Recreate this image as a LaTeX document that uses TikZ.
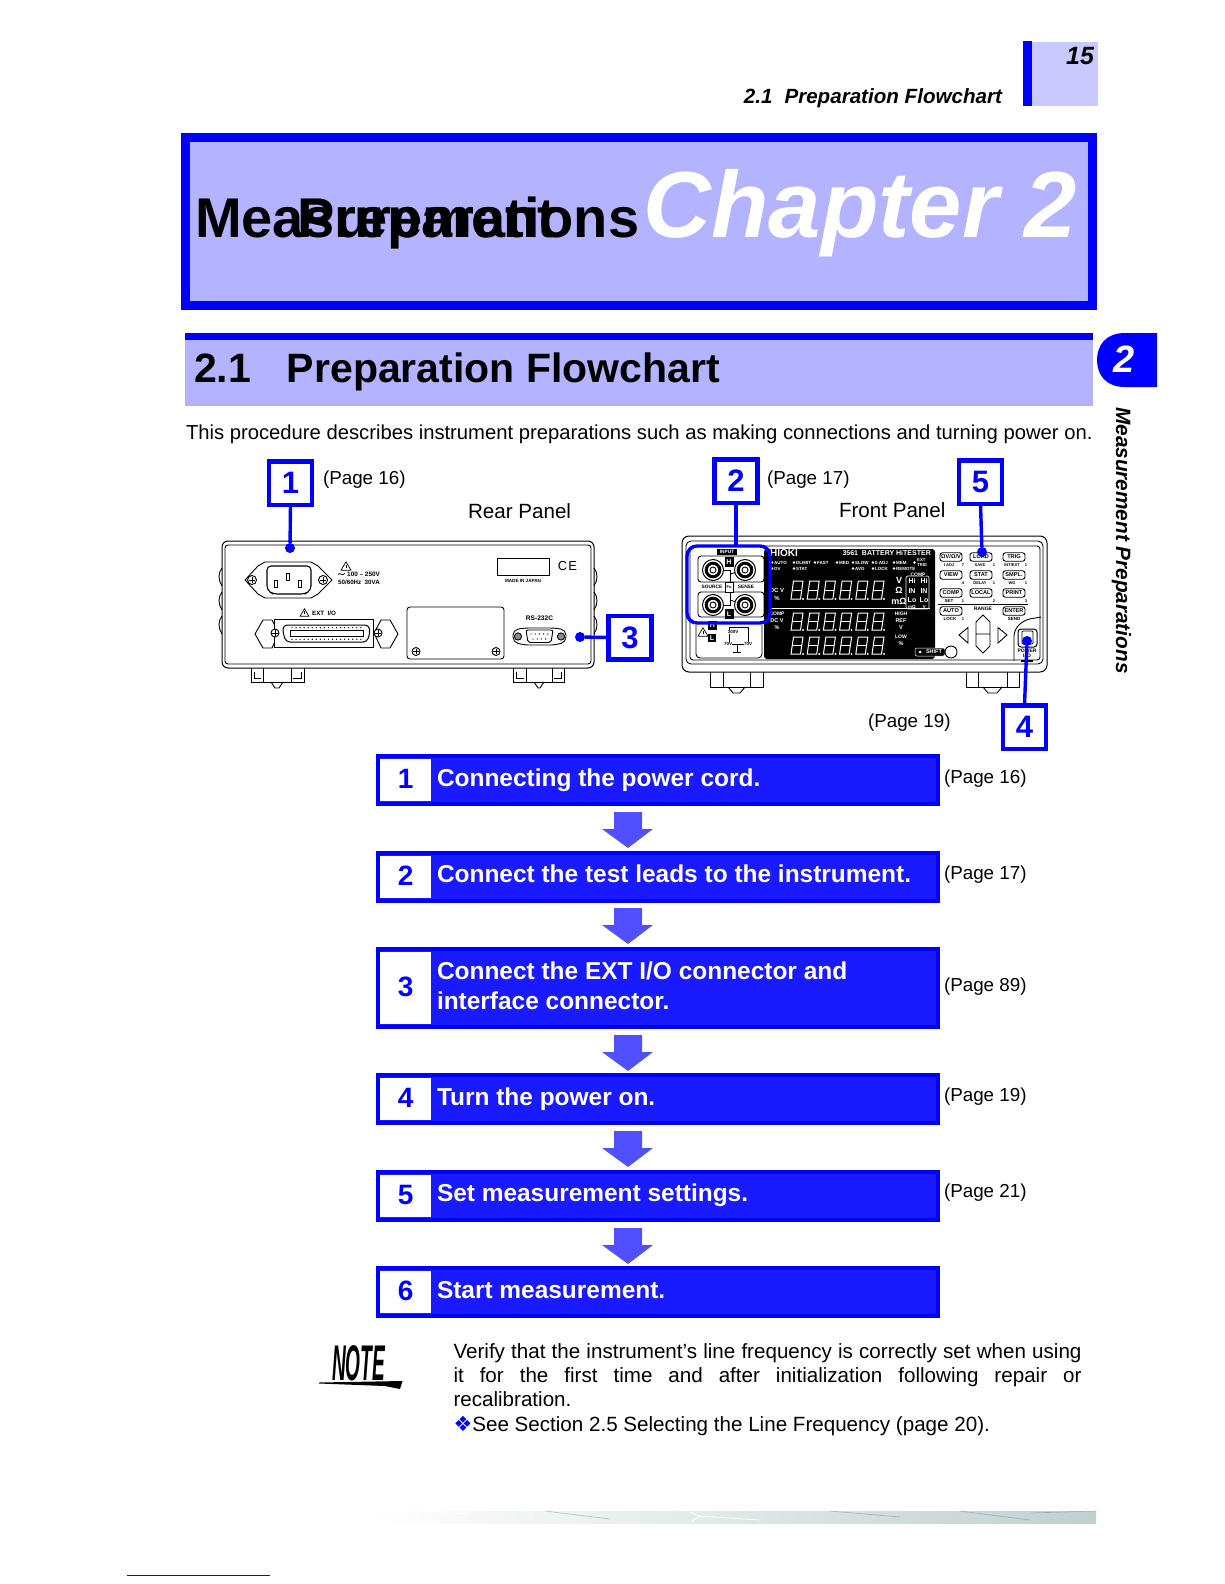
\documentclass[tikz,border=0pt]{standalone}
\usepackage{fontspec}
\usepackage{graphicx}
\setmainfont{Liberation Sans}
\newfontfamily\djv{DejaVu Sans}
\usetikzlibrary{calc}
\definecolor{pblue}{HTML}{0000FF}
\definecolor{flowfill}{HTML}{1A1AFF}
\definecolor{lav}{HTML}{B3B3FF}
\definecolor{lav2}{HTML}{C9C9FF}
\definecolor{arrowb}{HTML}{5050FF}
\definecolor{stripc}{HTML}{BFD0D0}
\definecolor{rulec}{HTML}{10109A}
\newcommand\fsz[1]{\fontsize{#1}{#1}\selectfont}
\newcounter{tnc}
\newcommand\pl[4][]{\stepcounter{tnc}\node[inner sep=0pt,font=\bfseries\fsz{#3},#1] (tn\arabic{tnc}) at (#2) {#4};}
\newcommand\scr[3]{\draw[panel,fill=white] (#1,#2) circle[radius=#3]; \draw[panel] (#1-#3*.7,#2) -- (#1+#3*.7,#2) (#1,#2-#3*.7) -- (#1,#2+#3*.7);}
\newcommand\wtri[3]{\draw[panel,line width=.7pt,line join=round] (#1-#3,#2+#3*.85) -- (#1,#2-#3*.85) -- (#1+#3,#2+#3*.85) -- cycle; \draw[panel,line width=.7pt] (#1,#2-#3*.25) -- (#1,#2+#3*.4);}
\newcommand\btn[3]{\stepcounter{tnc}\node[btnbox] (bt\arabic{tnc}) at (#1,#2) {#3};}
\tikzset{
  x=1pt,y=-1pt,
  plain/.style={inner sep=0pt,outer sep=0pt,anchor=base west},
  panel/.style={draw=black,line width=.9pt},
  callout/.style={draw=pblue,fill=white,line width=4.5pt,minimum width=43pt,minimum height=43.5pt,inner sep=0pt,outer sep=0pt,text=pblue,font=\bfseries\fsz{31}},
  lead/.style={draw=pblue,line width=3.4pt},
  dotn/.style={circle,fill=pblue,inner sep=0pt,minimum size=10pt,outer sep=0pt},
  flow/.style={draw=pblue,fill=flowfill,line width=4pt,anchor=north west,inner sep=0pt,outer sep=0pt,minimum width=560pt},
  numbox/.style={fill=white,text=pblue,font=\bfseries\fsz{28},inner sep=0pt,outer sep=0pt,minimum width=50.5pt},
  flowtxt/.style={plain,text=white,font=\bfseries\fsz{24.45}},
  pagetxt/.style={plain,font=\fsz{18.8}},
  btnbox/.style={draw=black,fill=white,line width=.9pt,rounded corners=2.5pt,minimum width=22pt,minimum height=8.5pt,inner sep=0pt,font=\bfseries\fsz{5.6}},
}
\begin{document}
\begin{tikzpicture}
\useasboundingbox (0,0) rectangle (1224,1584);
% running head
\fill[lav2] (1032,42) rectangle (1098,106);
\fill[pblue] (1023,41) rectangle (1032,106);
\node[plain,anchor=base east,font=\bfseries\itshape\fsz{25}] (pageno) at (1094,65) {15};
\node[plain,anchor=base east,font=\bfseries\itshape\fsz{20.6}] (runhead) at (1002,104) {2.1\hspace{12pt}Preparation Flowchart};
% chapter box
\node[draw=pblue,fill=lav,line width=8.5pt,anchor=north west,inner sep=0pt,outer sep=0pt,minimum width=907pt,minimum height=168pt] (chapbox) at (185.5,137.5) {};
\node[plain,font=\bfseries\fsz{56}] (chapa) at (195,237) {Measurement};
\node[plain,font=\bfseries\fsz{56}] (chapb) at (297,237) {Preparations};
\node[plain,anchor=base east,text=white,font=\bfseries\itshape\fsz{94}] (chapc) at (1077,237) {Chapter 2};
% section head
\fill[lav] (185,340) rectangle (1093,406);
\fill[pblue] (185,333) rectangle (1093,340);
\node[plain,font=\bfseries\fsz{41}] (sect) at (194,382) {2.1\hspace{36pt}Preparation Flowchart};
% side tab
\fill[pblue] (1157,333) -- (1125,333) .. controls (1106,333) and (1097,345) .. (1097,360) .. controls (1097,375) and (1106,387) .. (1125,387) -- (1157,387) -- cycle;
\node[inner sep=0pt,text=white,font=\bfseries\itshape\fsz{38}] (tabno) at (1124,359) {2};
\node[inner sep=0pt,rotate=-90,anchor=base west,font=\bfseries\itshape\fsz{20.75}] (sidetxt) at (1116,407) {Measurement Preparations};
% intro
\node[plain,font=\fsz{20.6}] (intro) at (186,439) {\resizebox{906.5pt}{!}{This procedure describes instrument preparations such as making connections and turning power on.}};
\node[pagetxt] (p16a) at (323,484) {(Page 16)};
\node[pagetxt] (p17a) at (767,484) {(Page 17)};
\node[pagetxt] (p19a) at (868,727) {(Page 19)};
\node[plain,font=\fsz{20.6}] (rear) at (468,518) {Rear Panel};
\node[plain,font=\fsz{20.6}] (front) at (839,517) {Front Panel};

% ---------- rear panel
\draw[panel,fill=white,line width=1pt,rounded corners=6pt] (222,541) rectangle (594,668);
\draw[panel,rounded corners=3pt] (225,545) rectangle (591,664);
\foreach \yy in {568,592,616} {
  \draw[panel] (222,\yy) .. controls (218,\yy+5) and (218,\yy+12) .. (222,\yy+18);
  \draw[panel] (594,\yy) .. controls (598,\yy+5) and (598,\yy+12) .. (594,\yy+18);
}
% feet
\foreach \xa/\xb/\xc/\xd in {251/263/291/304,513/526/552/564} {
  \draw[panel] (\xa,668) -- (\xa,682) -- (\xd,682) -- (\xd,668);
  \draw[panel] (\xb,668) -- (\xb,682) (\xc,668) -- (\xc,682);
  \draw[panel] (\xb+8,682) -- (\xb+12,688) -- (\xc-12,688) -- (\xc-8,682);
  \draw[panel] (\xa+3,672) -- (\xa+3,678) -- (\xb-2,678) (\xd-3,672) -- (\xd-3,678) -- (\xc+2,678);
}
% inlet
\draw[panel,fill=white] (245,580) -- (258,566) -- (265,562) -- (311,562) -- (318,566) -- (332,580) -- (318,594) -- (311,598) -- (265,598) -- (258,594) -- cycle;
\draw[panel,line width=1.1pt,fill=white,rounded corners=4pt] (267,566) -- (311,566) -- (311,590) -- (305,594) -- (273,594) -- (267,590) -- cycle;
\draw[panel,fill=white] (274.5,580) rectangle (277.5,587);
\draw[panel,fill=white] (286.5,573) rectangle (289.5,580);
\draw[panel,fill=white] (298.5,580) rectangle (301.5,587);
\scr{252}{580}{4.5}
\scr{323}{580}{4.5}
\wtri{346}{566}{5}
\draw[panel,line width=.7pt] (338,574.5) .. controls (340,571.5) and (342,577) .. (345,573.5);
\pl[anchor=west]{347,574}{6.4}{100 – 250V}
\pl[anchor=west]{338,582.5}{6.2}{50/60Hz\ \ 30VA}
% name plate
\draw[panel] (497,558) rectangle (549,575);
\pl{523,580.5}{4.6}{MADE IN JAPAN}
\pl{567.5,566}{13}{\mdseries C\hspace{1pt}E}
% EXT I/O
\wtri{304.5}{612.5}{4.5}
\pl[anchor=west]{312,613}{6.2}{EXT\ \ I/O}
\draw[panel,fill=white] (255,634) -- (263,620) -- (272,620) -- (279,633) -- (272,648) -- (263,648) -- cycle;
\draw[panel,fill=white] (398,634) -- (390,620) -- (381,620) -- (374,633) -- (381,648) -- (390,648) -- cycle;
\draw[panel,fill=white] (274,619) rectangle (373,647);
\scr{275}{633}{4}
\scr{378}{633}{4}
\draw[panel,line width=1pt,fill=white,rounded corners=4pt] (283,625) -- (369,625) -- (370,633) -- (367,642) -- (286,642) -- (283,633) -- cycle;
\draw[panel] (290,630) rectangle (363,636.5);
\foreach \i in {0,...,17} {
  \fill (292+\i*4.05,627.7) circle[radius=.7];
  \fill (292+\i*4.05,639.3) circle[radius=.7];
}
% cover plate
\draw[panel,rounded corners=3pt] (407,607) rectangle (504,659);
\scr{416}{651.5}{4}
\scr{496}{651.5}{4}
% RS-232C
\pl{539.5,618}{6.6}{RS-232C}
\draw[panel,rounded corners=5pt] (513,630) -- (524,628) -- (555,628) -- (566,630) -- (566,642) -- (555,645) -- (524,645) -- (513,642) -- cycle;
\draw[panel,fill=black!45] (518,636.5) circle[radius=3.6];
\draw[panel,fill=black!45] (561,636.5) circle[radius=3.6];
\draw[panel,fill=white,rounded corners=2pt] (526,630) -- (553,630) -- (551,642.5) -- (528,642.5) -- cycle;
\foreach \i in {0,...,4} \fill (531+\i*4.2,634) circle[radius=.7];
\foreach \i in {0,...,3} \fill (533+\i*4.2,639) circle[radius=.7];

% ---------- front panel
\draw[panel,fill=white,line width=1pt,rounded corners=7pt] (682,536) rectangle (1047,672);
\draw[panel,rounded corners=5pt] (686,541) rectangle (1043,664);
\draw[panel,rounded corners=3pt] (690,546) rectangle (1040,660);
\foreach \xa/\xb/\xc/\xd in {710/723/750/763,966/978/1007/1019} {
  \draw[panel] (\xa,672) -- (\xa,687) -- (\xd,687) -- (\xd,672);
  \draw[panel] (\xb,672) -- (\xb,687) (\xc,672) -- (\xc,687);
  \draw[panel] (\xb+5,687) -- (\xb+10,693) -- (\xc-10,693) -- (\xc-5,687);
}
% input section
\fill (717,549) rectangle (737,555);
\pl[text=white]{727,552}{4.8}{INPUT}
\draw[panel,rounded corners=3pt] (698,556) -- (698,582) -- (764,582) -- (764,556) -- cycle;
\draw[panel,rounded corners=3pt] (698,592) -- (698,617) -- (764,617) -- (764,592) -- cycle;
\draw[panel] (713,570) -- (730,570) -- (730,605) -- (713,605);
\draw[panel] (745,570) -- (730,574) (745,605) -- (730,600);
\foreach \cx/\cy in {713/570,745/570,713/605,745/605} {
  \draw[panel,fill=white,line width=1pt] (\cx,\cy) circle[radius=10.5];
  \draw[black,fill=white,line width=3pt] (\cx,\cy) circle[radius=6.8];
  \draw[panel,fill=white] (\cx,\cy) circle[radius=3];
}
\fill[white] (694,583) rectangle (766,591);
\pl{712,587}{4.8}{SOURCE}
\pl{746,587}{4.8}{SENSE}
\fill[black] (724.5,557) rectangle (733.5,567);
\pl[text=white]{729,562}{7}{H}
\fill[black] (724.5,609) rectangle (733.5,619);
\pl[text=white]{729,614}{7}{L}
\draw[panel,fill=white] (725,582) rectangle (733,592);
\pl{729,587}{4}{Fu}
% lower left schematic
\draw[panel,rounded corners=4pt] (696,625) -- (696,658) -- (762,658) -- (762,625);
\fill (708,621) rectangle (717,630);
\pl[text=white]{712.5,625.5}{7}{H}
\fill (708,634) rectangle (716,642);
\pl[text=white]{712,638}{7}{L}
\wtri{703}{632}{5}
\draw[panel,line width=.6pt] (729,627) -- (748,627) -- (748,644) -- (737,644) (729,627) -- (729,644) -- (737,644) -- (737,652);
\draw[panel,line width=.6pt] (733,652) -- (741,652);
\pl[fill=white]{733,632}{4.5}{300V}
\pl[fill=white]{728,644}{4.5}{70V}
\pl[fill=white]{748,644}{4.5}{70V}
% display
\fill[black,rounded corners=3pt] (764,549) rectangle (935,659);
\pl[text=white,anchor=west]{770,553}{10}{HIOKI}
\pl[text=white,anchor=east]{931,553}{7}{3561\ \ BATTERY HiTESTER}
\foreach \xx/\yy/\tt in {772/562.5/AUTO,794/562.5/DLIMIT,815/562.5/FAST,837/562.5/MED,853/562.5/SLOW,873/562.5/0 ADJ,894/562.5/MEM,772/568.5/OV,794/568.5/STAT,853/568.5/AVG,873/568.5/LOCK,894/568.5/REMOTE} {
  \fill[white] (\xx,\yy) circle[radius=1.3];
  \pl[text=white,anchor=west]{\xx+2,\yy}{4.5}{\tt}
}
\fill[white] (914.5,562.5) circle[radius=1.3];
\pl[text=white,anchor=west]{917,560.5}{4.2}{EXT}
\pl[text=white,anchor=west]{917,565}{4.2}{TRIG}
\draw[white,line width=.6pt] (770,608) -- (930,608);
\pl[text=white]{777,590}{6}{DC V}
\pl[text=white]{777,598}{6}{\%}
\pl[text=white]{777,613.5}{5}{COMP}
\pl[text=white]{777,620.5}{5.5}{DC V}
\pl[text=white]{777,628}{5.5}{\%}
\pl[text=white]{899,580}{9}{V}
\pl[text=white]{899,590}{9}{Ω}
\pl[text=white]{899,601}{9}{mΩ}
\pl[text=white]{901,614}{5}{HIGH}
\pl[text=white]{901,621}{5.5}{REF}
\pl[text=white]{901,628}{5.5}{V}
\pl[text=white]{901,637}{5}{LOW}
\pl[text=white]{901,644}{5.5}{\%}
\draw[white,line width=.6pt,rounded corners=2pt] (906,576) rectangle (929,609);
\pl[text=white,fill=black]{918,574.5}{5}{COMP}
\foreach \yy/\tt in {581/Hi,591/IN,600/Lo} {
  \pl[text=white]{912,\yy}{7}{\tt}
  \pl[text=white]{924,\yy}{7}{\tt}
}
\pl[text=white]{912,606.5}{4.5}{mΩ}
\pl[text=white]{924,606.5}{4.5}{V}
% seven-segment digit rows
\foreach \yy/\hh in {581/18,613/17,637/17} {
  \foreach \i in {0,...,5} {
    \pgfmathsetmacro\xl{791+\i*16.2}
    \draw[white,line width=1pt] (\xl,\yy+\hh) -- (\xl+2.5,\yy) -- (\xl+12,\yy) -- (\xl+9.5,\yy+\hh) -- cycle;
    \draw[white,line width=1pt] (\xl+1.25,\yy+\hh/2) -- (\xl+10.75,\yy+\hh/2);
    \fill[white] (\xl+12,\yy+\hh) circle[radius=1.1];
  }
}
% shift
\draw[white,fill=black,line width=.5pt,rounded corners=2pt] (915,648) rectangle (945,656);
\fill[white] (920,652) circle[radius=1.5];
\pl[text=white]{934,652}{5.5}{SHIFT}
\draw[panel,fill=white] (951,652) circle[radius=6];
% buttons
\btn{951}{557}{ΩV/Ω/V}
\btn{981}{557}{LOAD}
\btn{1014}{557}{TRIG}
\btn{951}{575}{VIEW}
\btn{981}{575}{STAT}
\btn{1014}{575}{SMPL.}
\btn{951}{593}{COMP}
\btn{981}{593}{LOCAL}
\btn{1014}{593}{PRINT}
\btn{951}{611}{AUTO}
\btn{1014}{611}{ENTER}
\pl{949,565}{4}{I ADJ}
\pl{963,565}{4}{7}
\pl{980,565}{4}{SAVE}
\pl{994,565}{4}{1}
\pl{1012,565}{4}{INT/EXT}
\pl{1026,565}{4}{1}
\pl{963,583}{4}{4}
\pl{980,583}{4}{DELAY}
\pl{994,583}{4}{1}
\pl{1012,583}{4}{WG}
\pl{1026,583}{4}{1}
\pl{949,601}{4.5}{SET}
\pl{963,601}{4}{1}
\pl{994,601}{4}{2}
\pl{1026,601}{4}{3}
\pl{950,619}{4.5}{LOCK}
\pl{963,619}{4}{1}
\pl{1014,619}{4.5}{SEND}
\draw[panel,line width=.6pt] (938,604) -- (1028,604);
\pl{983,609}{5}{RANGE}
\draw[panel] (983,615) -- (990,622) -- (990,646) -- (983,653) -- (976,646) -- (976,622) -- cycle (976,634) -- (990,634);
\draw[panel] (968,627.5) -- (959,635) -- (968,643) -- cycle;
\draw[panel] (998,627.5) -- (1007,635) -- (998,643) -- cycle;
\draw[panel,rounded corners=6pt] (1041,617) -- (1024,620) -- (1014,630) -- (1014,661);
\draw[panel,line width=1pt,rounded corners=3pt] (1018,629) rectangle (1037,647);
\draw[panel,rounded corners=1pt] (1022,631) rectangle (1033,644);
\pl{1027,650.5}{5}{POWER}
\pl{1027,656}{5}{I\ \ O}
\fill (1021,659.5) rectangle (1033,661.5);

% ---------- callouts
\node[callout] (b1) at (290.5,483) {1};
\node[dotn] (d1) at (290,548) {};
\draw[lead] (b1.south) -- (d1);
\node[callout] (b3) at (630,637.5) {3};
\node[dotn] (d3) at (580,637) {};
\draw[lead] (b3.west) -- (d3);
\node[callout] (b2) at (736,481) {2};
\node[draw=pblue,line width=3.4pt,rounded corners=10pt,minimum width=83pt,minimum height=77pt,inner sep=0pt,outer sep=0pt] (inputring) at (728.5,584.5) {};
\draw[lead] (b2.south) -- (inputring.north -| b2.south);
\node[callout] (b5) at (980.5,482) {5};
\node[dotn] (d5) at (982,552) {};
\draw[lead] (b5.south) -- (d5);
\node[callout] (b4) at (1024.5,727) {4};
\node[dotn] (d4) at (1027,641) {};
\draw[lead] (b4.north) -- (d4);

% ---------- flow
\foreach \n/\top/\hh/\numy in {1/754/48/780,2/851/48/877,3/947/78/988,4/1073/48/1099,5/1170/48/1196,6/1266/48/1292} {
  \node[flow,minimum height=\hh pt] (s\n) at (378,\top+2) {};
  \node[numbox,minimum height=\hh pt-6pt] (n\n) at (405.7,\numy) {\raisebox{2pt}{\n}};
}
\node[flowtxt] (t1) at (437,786) {Connecting the power cord.};
\node[flowtxt] (t2) at (437,882) {Connect the test leads to the instrument.};
\node[flowtxt] (t3a) at (437,979) {Connect the EXT I/O connector and};
\node[flowtxt] (t3b) at (437,1009) {interface connector.};
\node[flowtxt] (t4) at (437,1105) {Turn the power on.};
\node[flowtxt] (t5) at (437,1201) {Set measurement settings.};
\node[flowtxt] (t6) at (437,1298) {Start measurement.};
\node[pagetxt] (f1) at (944,783) {(Page 16)};
\node[pagetxt] (f2) at (944,879) {(Page 17)};
\node[pagetxt] (f3) at (944,991) {(Page 89)};
\node[pagetxt] (f4) at (944,1101) {(Page 19)};
\node[pagetxt] (f5) at (944,1197) {(Page 21)};
\foreach \t in {812,908,1035,1131,1228} {
  \fill[arrowb] (614,\t) -- (642,\t) -- (642,\t+17) -- (653,\t+17) -- (628,\t+36) -- (602,\t+17) -- (614,\t+17) -- cycle;
}
% note
\node[plain,anchor=north west] (notemark) at (332,1345) {\resizebox{53pt}{35pt}{\bfseries\itshape NOTE}};
\fill (319,1382.5) -- (402.5,1381) -- (400,1389) -- (385,1386) -- (319,1383.5) -- cycle;
\node[plain,font=\fsz{20.6}] (n1) at (453.5,1358) {\makebox[628pt][s]{Verify that the instrument’s line frequency is correctly set when using}};
\node[plain,font=\fsz{20.6}] (n2) at (453.5,1382) {\makebox[628pt][s]{it for the first time and after initialization following repair or}};
\node[plain,font=\fsz{20.6}] (n3) at (453.5,1406) {recalibration.};
\node[plain,font=\fsz{20.6}] (n4) at (453.5,1431) {{\djv\fsz{21}\color{pblue}❖}\hspace{0pt}See Section 2.5 Selecting the Line Frequency (page 20).};
% footer
\shade[left color=white,right color=stripc] (370,1511) rectangle (1096,1523);
\draw[white,line width=.8pt] (420,1511) -- (470,1514) (690,1512) -- (700,1516) -- (760,1520) (700,1516) -- (692,1521);
\draw[stripc!70!black,opacity=.5,line width=.7pt] (545,1511) -- (610,1519) (830,1511) -- (900,1517) (960,1511) -- (1030,1520) (1030,1513) -- (1096,1511);
\draw[rulec,line width=1pt] (127,1575) -- (270,1575);
\end{tikzpicture}
\end{document}
